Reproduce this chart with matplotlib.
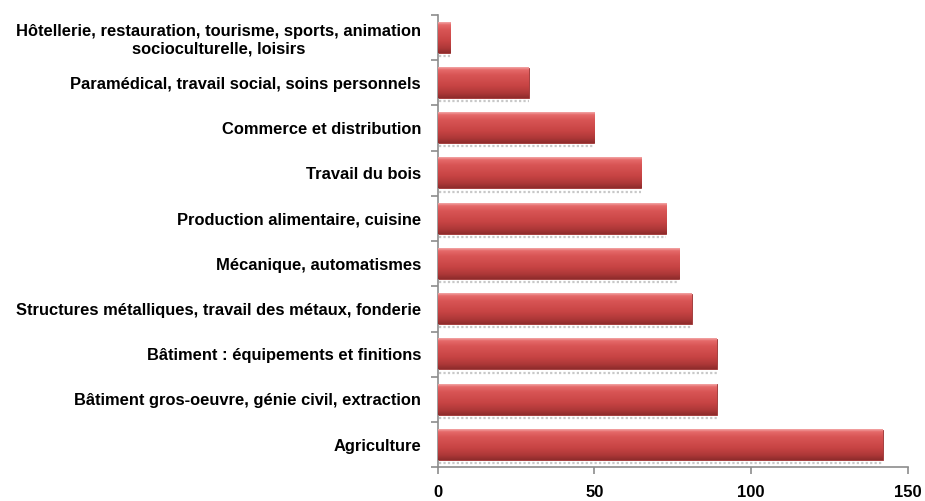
import numpy as np
import matplotlib
matplotlib.use('Agg')
import matplotlib.pyplot as plt
from matplotlib.colors import LinearSegmentedColormap

plt.rcParams['font.family'] = ['Liberation Sans', 'DejaVu Sans']

# categories, top to bottom
secteurs = [
    'Hôtellerie, restauration, tourisme, sports, animation\nsocioculturelle, loisirs',
    'Paramédical, travail social, soins personnels',
    'Commerce et distribution',
    'Travail du bois',
    'Production alimentaire, cuisine',
    'Mécanique, automatismes',
    'Structures métalliques, travail des métaux, fonderie',
    'Bâtiment : équipements et finitions',
    'Bâtiment gros-oeuvre, génie civil, extraction',
    'Agriculture',
]
effectifs = [4, 29, 50, 65, 73, 77, 81, 89, 89, 142]
xticks = [0, 50, 100, 150]

fig = plt.figure(figsize=(9.25, 5.01), dpi=100)
ax = fig.add_axes([0.4732, 0.0673, 0.5081, 0.9028])

ypos = np.arange(len(secteurs))
bar_h = 0.67
bars = ax.barh(ypos, effectifs, height=bar_h, color='#c94545',
               edgecolor='#9a3030', linewidth=0.6, zorder=2)

# vertical shading on each bar (light top, dark bottom)
cmap = LinearSegmentedColormap.from_list('shade', [
    (0.0, '#f2a4a4'), (0.08, '#e56a6a'), (0.25, '#d85555'),
    (0.6, '#c84444'), (0.85, '#ad3838'), (1.0, '#8e2c2c')])
grad = np.linspace(0, 1, 64).reshape(-1, 1)
for b in bars:
    x0, y0 = b.get_x(), b.get_y()
    w, h = b.get_width(), b.get_height()
    # y axis is inverted: y0 is the upper edge on screen
    ax.imshow(grad, cmap=cmap, aspect='auto', interpolation='bilinear',
              extent=[x0, x0 + w, y0, y0 + h], origin='lower', zorder=3)
    # faint dotted reflection under the bar
    ax.hlines(y0 + h + 0.07, x0 + 0.5, x0 + w, colors='#c8c8c8',
              linestyles=(0, (1, 1)), linewidth=1.6, zorder=1)

ax.set_xlim(0, 150)
ax.set_ylim(len(secteurs) - 0.5, -0.5)

ax.set_xticks(xticks)
ax.set_xticklabels([str(t) for t in xticks], fontsize=12, fontweight='bold')
ax.tick_params(axis='x', direction='out', length=5, width=1.2,
               color='#8c8c8c', pad=8)

# tick marks between categories, labels at category centres
ax.set_yticks(np.arange(-0.5, len(secteurs), 1.0))
ax.set_yticklabels([])
ax.set_yticks(ypos, minor=True)
ax.set_yticklabels(secteurs, minor=True, fontsize=11.9, fontweight='bold')
ax.tick_params(axis='y', which='major', direction='out', length=5,
               width=1.2, color='#8c8c8c')
ax.tick_params(axis='y', which='minor', length=0, pad=12)
ax.get_yticklabels(minor=True)[0].set_multialignment('center')

for side in ['top', 'right']:
    ax.spines[side].set_visible(False)
for side in ['left', 'bottom']:
    ax.spines[side].set_color('#8c8c8c')
    ax.spines[side].set_linewidth(1.2)

fig.savefig('out.png', dpi=100)
